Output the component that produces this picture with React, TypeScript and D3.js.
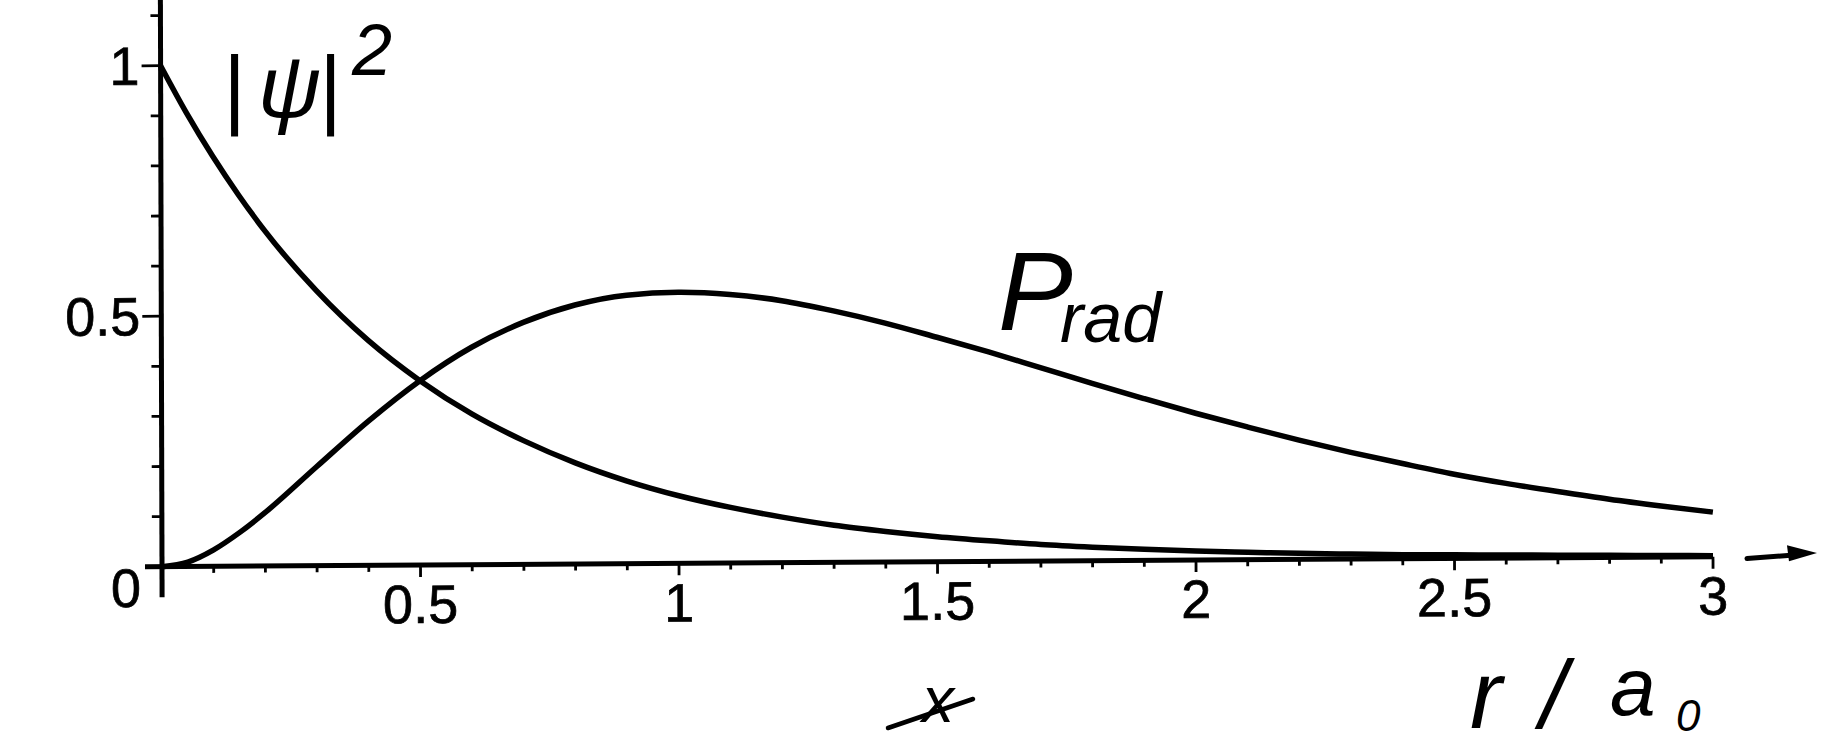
import React from "react";
import * as d3 from "d3";

// r / a0 sample positions
const X_VALUES = [
  0, 0.05, 0.1, 0.15, 0.2, 0.3, 0.4, 0.5, 0.6, 0.7, 0.8, 0.9, 1.0, 1.1, 1.2, 1.3,
  1.4, 1.5, 1.6, 1.7, 1.8, 1.9, 2.0, 2.1, 2.2, 2.3, 2.4, 2.5, 2.6, 2.7, 2.8, 2.9,
  3.0,
];

// |psi|^2
const PSI_SQ = [
  1.0, 0.905, 0.819, 0.741, 0.67, 0.549, 0.449, 0.368, 0.301, 0.247, 0.202,
  0.165, 0.135, 0.111, 0.091, 0.074, 0.061, 0.05, 0.041, 0.033, 0.027, 0.022,
  0.018, 0.015, 0.012, 0.01, 0.008, 0.007, 0.006, 0.005, 0.004, 0.003, 0.002,
];

// P_rad
const P_RAD = [
  0.0, 0.009, 0.033, 0.067, 0.107, 0.198, 0.288, 0.368, 0.434, 0.483, 0.517,
  0.536, 0.541, 0.536, 0.523, 0.502, 0.477, 0.448, 0.418, 0.386, 0.354, 0.323,
  0.293, 0.265, 0.238, 0.213, 0.19, 0.168, 0.149, 0.132, 0.116, 0.102, 0.089,
];

const X_TICK_LABELS = ["0.5", "1", "1.5", "2", "2.5", "3"];
const X_TICK_VALUES = [0.5, 1, 1.5, 2, 2.5, 3];
const Y_TICK_LABELS = ["0", "0.5", "1"];
const Y_TICK_VALUES = [0, 0.5, 1];
const X_MINOR = d3.range(1, 31).map((i) => i / 10);
const Y_MINOR = d3.range(1, 12).map((i) => i / 10);

const W = 1840;
const H = 753;

export default function App() {
  const x = d3.scaleLinear().domain([0, 3]).range([162, 1713]);
  const y = d3.scaleLinear().domain([0, 1]).range([566.7, 65.7]);
  const x0 = x(0);
  const y0 = y(0);

  const line = d3
    .line<number>()
    .x((_, i) => x(X_VALUES[i]))
    .y((d) => y(d))
    .curve(d3.curveMonotoneX);

  // slight skew of the scanned plot
  const b = -0.00645;
  const c = 0.00283;
  const skew = `matrix(1, ${b}, ${c}, 1, ${-c * y0}, ${-b * x0})`;

  const tickFont = "'Liberation Sans', Arial, Helvetica, sans-serif";
  const handFont = "'Liberation Sans', Arial, sans-serif";

  const arrowStart = x(3) + 34;
  const arrowEnd = x(3) + 104;

  return (
    <svg
      width={W}
      height={H}
      viewBox={`0 0 ${W} ${H}`}
      style={{ position: "absolute", left: 0, top: 0, background: "#fff" }}
    >
      <rect x={0} y={0} width={W} height={H} fill="#fff" />
      <g transform={skew}>
        {/* axes */}
        <line x1={x0} x2={x0} y1={y(1.14)} y2={y(-0.061)} stroke="#000" strokeWidth={5} />
        <line x1={x0 - 17} x2={x(3)} y1={y0} y2={y0} stroke="#000" strokeWidth={5} />
        {/* y ticks */}
        {Y_MINOR.map((v) => {
          const major = Math.abs(v - 0.5) < 1e-9 || Math.abs(v - 1) < 1e-9;
          return (
            <line
              key={"ym" + v}
              x1={x0 - (major ? 19 : 10)}
              x2={x0}
              y1={y(v)}
              y2={y(v)}
              stroke="#000"
              strokeWidth={2.8}
            />
          );
        })}
        {/* x ticks */}
        {X_MINOR.map((v) => {
          const major = Math.abs(v * 2 - Math.round(v * 2)) < 1e-9;
          return (
            <line
              key={"xm" + v}
              x1={x(v)}
              x2={x(v)}
              y1={y0}
              y2={y0 + (major ? 12 : 6.5)}
              stroke="#000"
              strokeWidth={2.8}
            />
          );
        })}
        {/* y tick labels */}
        {Y_TICK_VALUES.map((v, i) => (
          <text
            key={"yl" + v}
            x={141}
            y={y(v) + (v === 0 ? 40 : 19)}
            textAnchor="end"
            fontFamily={tickFont}
            fontSize={54}
            fill="#000"
            stroke="#000"
            strokeWidth={0.7}
          >
            {Y_TICK_LABELS[i]}
          </text>
        ))}
        {/* x tick labels */}
        {X_TICK_VALUES.map((v, i) => (
          <text
            key={"xl" + v}
            x={x(v)}
            y={y0 + 58}
            textAnchor="middle"
            fontFamily={tickFont}
            fontSize={54}
            fill="#000"
            stroke="#000"
            strokeWidth={0.7}
          >
            {X_TICK_LABELS[i]}
          </text>
        ))}
        {/* curves */}
        <path d={line(PSI_SQ) || ""} fill="none" stroke="#000" strokeWidth={5.5} />
        <path d={line(P_RAD) || ""} fill="none" stroke="#000" strokeWidth={5.5} />
        {/* arrow */}
        <line
          x1={arrowStart}
          y1={y0 + 2}
          x2={arrowEnd - 26}
          y2={y0 - 1}
          stroke="#000"
          strokeWidth={5}
          strokeLinecap="round"
        />
        <path
          d={`M${arrowEnd},${y0 - 3} L${arrowEnd - 30},${y0 - 11} L${arrowEnd - 28},${y0 + 5} Z`}
          fill="#000"
        />
      </g>

      {/* handwritten annotations */}
      <text fontFamily={handFont} fontStyle="italic" fontSize={87} fill="#000">
        <tspan x={222} y={117}>|</tspan>
        <tspan x={258} y={117}>ψ</tspan>
        <tspan x={318} y={117}>|</tspan>
        <tspan x={352} y={75} fontSize={72}>2</tspan>
      </text>
      <text fontFamily={handFont} fontStyle="italic" fill="#000">
        <tspan x={998} y={330} fontSize={112}>P</tspan>
      </text>
      <text fontFamily={handFont} fontStyle="italic" fill="#000">
        <tspan x={1060} y={342} fontSize={70}>rad</tspan>
      </text>
      <text fontFamily={handFont} fontStyle="italic" fill="#000">
        <tspan x={922} y={722} fontSize={64}>x</tspan>
      </text>
      <line x1={888} y1={728} x2={973} y2={699} stroke="#000" strokeWidth={4.5} strokeLinecap="round" />
      <text fontFamily={handFont} fontStyle="italic" fill="#000">
        <tspan x={1470} y={728} fontSize={96}>r</tspan>
        <tspan x={1540} y={728} fontSize={96}>/</tspan>
        <tspan x={1610} y={715} fontSize={82}>a</tspan>
        <tspan x={1676} y={731} fontSize={44}>0</tspan>
      </text>
    </svg>
  );
}
